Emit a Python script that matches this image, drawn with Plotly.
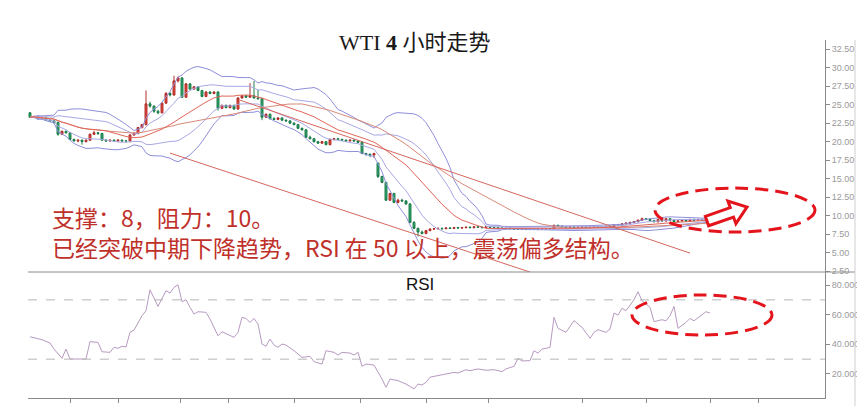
import plotly.graph_objects as go
import pandas as pd

# ---------------- data ----------------
open_ = [
    23.9, 23.3, 23.4, 23.1, 23.2, 22.9, 22.8, 22.6, 21.0, 21.4,
    21.2, 20.3, 20.1, 20.2, 20.0, 20.2, 21.0, 21.2, 21.1, 20.2,
    20.1, 20.2, 20.1, 20.2, 20.1, 20.1, 20.9, 21.1, 21.9, 22.3,
    25.1, 24.8, 24.1, 23.9, 25.2, 26.5, 26.3, 28.2, 28.6, 26.0,
    27.8, 27.1, 27.4, 26.9, 26.1, 26.7, 26.5, 26.7, 24.5, 24.9,
    24.6, 24.9, 24.4, 25.9, 26.2, 26.0, 26.2, 25.9, 25.8, 23.3,
    23.7, 23.1, 23.0, 23.2, 22.9, 22.8, 22.5, 22.3, 21.8, 21.6,
    20.6, 20.4, 20.0, 19.8, 20.0, 19.6, 20.3, 20.4, 20.3, 20.2,
    20.1, 20.2, 20.1, 19.9, 18.4, 18.3, 18.2, 17.1, 15.3, 14.5,
    12.1, 13.0, 11.8, 12.1, 12.0, 11.6, 9.1, 8.3, 7.8, 7.6,
    8.0,
    8.2, 8.25, 8.3, 8.25, 8.35, 8.3, 8.4, 8.35, 8.4, 8.45,
    8.4, 8.5, 8.45, 8.4, 8.5, 8.45, 8.4, 8.35, 8.3, 8.3,
    8.25, 8.2, 8.2, 8.25, 8.15, 8.2, 8.15, 8.2, 8.2, 8.25,
    8.2, 8.7, 8.6, 8.5, 8.45, 8.5, 8.4, 8.45, 8.5, 8.4,
    8.45, 8.5, 8.45, 8.5, 8.55, 8.5, 8.8, 8.75, 8.9, 9.0,
    9.1, 9.2, 9.4, 9.6, 9.5, 9.35, 9.2, 9.5, 9.3, 9.6,
    9.4, 9.2, 9.3, 9.4, 9.3, 9.5, 9.4, 9.5, 9.4, 9.5,
]
close = [
    23.3, 23.4, 23.1, 23.2, 22.9, 22.8, 22.6, 21.0, 21.4, 21.2,
    20.3, 20.1, 20.2, 20.0, 20.2, 21.0, 21.2, 21.1, 20.2, 20.1,
    20.2, 20.1, 20.2, 20.1, 20.1, 20.9, 21.1, 21.9, 22.3, 25.1,
    24.8, 24.1, 23.9, 25.2, 26.5, 26.3, 28.2, 28.6, 26.0, 27.8,
    27.1, 27.4, 26.9, 26.1, 26.7, 26.5, 26.7, 24.5, 24.9, 24.6,
    24.9, 24.4, 25.9, 26.2, 26.0, 26.2, 25.9, 25.8, 23.3, 23.7,
    23.1, 23.0, 23.2, 22.9, 22.8, 22.5, 22.3, 21.8, 21.6, 20.6,
    20.4, 20.0, 19.8, 20.0, 19.6, 20.3, 20.4, 20.3, 20.2, 20.1,
    20.2, 20.1, 19.9, 18.4, 18.3, 18.2, 18.4, 15.3, 14.5, 12.1,
    13.0, 11.8, 12.1, 12.0, 11.6, 9.1, 8.3, 7.8, 7.6, 8.0,
    8.2,
    8.25, 8.3, 8.25, 8.35, 8.3, 8.4, 8.35, 8.4, 8.45, 8.4,
    8.5, 8.45, 8.4, 8.5, 8.45, 8.4, 8.35, 8.3, 8.3, 8.25,
    8.2, 8.2, 8.25, 8.15, 8.2, 8.15, 8.2, 8.2, 8.25, 8.2,
    8.7, 8.6, 8.5, 8.45, 8.5, 8.4, 8.45, 8.5, 8.4, 8.45,
    8.5, 8.45, 8.5, 8.55, 8.5, 8.8, 8.75, 8.9, 9.0, 9.1,
    9.2, 9.4, 9.6, 9.5, 9.35, 9.2, 9.5, 9.3, 9.6, 9.4,
    9.2, 9.3, 9.4, 9.3, 9.5, 9.4, 9.5, 9.4, 9.5, 9.6,
]
high = [
    24.0, 23.5, 23.5, 23.3, 23.3, 23.0, 22.9, 22.7, 21.5, 21.5,
    21.3, 20.4, 20.3, 20.3, 20.3, 21.1, 21.5, 21.3, 21.2, 20.3,
    20.3, 20.3, 20.3, 20.3, 20.2, 21.0, 21.3, 22.0, 22.4, 26.9,
    25.4, 24.9, 24.3, 25.3, 26.7, 26.7, 28.9, 28.8, 28.7, 27.9,
    27.9, 27.5, 27.5, 27.0, 26.8, 26.8, 26.8, 26.8, 25.0, 25.0,
    25.0, 25.0, 26.0, 26.3, 26.3, 27.9, 28.2, 27.0, 25.9, 23.8,
    23.8, 23.3, 23.3, 23.3, 23.0, 22.9, 22.6, 22.4, 21.9, 21.7,
    20.8, 20.5, 20.1, 20.1, 20.1, 20.4, 20.5, 20.5, 20.4, 20.3,
    20.3, 20.3, 20.2, 20.0, 18.5, 18.4, 18.5, 17.2, 15.4, 14.6,
    13.1, 13.1, 12.3, 12.3, 12.1, 11.7, 9.3, 8.4, 8.0, 8.1,
    8.3,
    8.35, 8.4, 8.4, 8.45, 8.45, 8.5, 8.5, 8.5, 8.55, 8.55,
    8.6, 8.6, 8.55, 8.6, 8.6, 8.55, 8.5, 8.45, 8.4, 8.4,
    8.35, 8.3, 8.35, 8.35, 8.3, 8.3, 8.3, 8.3, 8.35, 8.35,
    8.8, 8.8, 8.7, 8.6, 8.6, 8.6, 8.55, 8.6, 8.6, 8.55,
    8.6, 8.6, 8.6, 8.65, 8.65, 8.9, 8.9, 9.0, 9.1, 9.2,
    9.3, 9.5, 9.75, 9.7, 9.6, 9.45, 9.6, 9.6, 9.7, 9.7,
    9.5, 9.4, 9.5, 9.5, 9.6, 9.6, 9.6, 9.6, 9.6, 9.7,
]
low = [
    23.2, 23.2, 23.0, 23.0, 22.8, 22.7, 22.5, 20.8, 20.9, 21.1,
    20.2, 20.0, 19.9, 19.6, 19.9, 20.1, 20.9, 20.9, 20.1, 20.0,
    20.0, 20.0, 20.0, 20.0, 19.9, 20.0, 20.8, 21.0, 21.8, 22.2,
    24.6, 23.9, 23.7, 23.8, 25.1, 26.1, 26.2, 28.0, 25.9, 25.9,
    27.0, 27.0, 26.8, 26.0, 26.0, 26.4, 26.4, 24.2, 24.4, 24.5,
    24.5, 24.3, 24.3, 25.8, 25.9, 25.9, 25.8, 25.7, 22.9, 23.2,
    23.0, 22.9, 22.9, 22.8, 22.7, 22.4, 22.2, 21.7, 21.5, 20.5,
    20.3, 19.9, 19.7, 19.7, 19.5, 19.5, 20.2, 20.2, 20.1, 20.0,
    20.0, 20.0, 19.8, 18.3, 18.1, 17.9, 17.8, 15.1, 14.4, 12.0,
    12.0, 11.7, 11.7, 11.9, 11.5, 9.0, 8.2, 7.2, 7.5, 7.5,
    7.9,
    8.1, 8.15, 8.15, 8.2, 8.2, 8.2, 8.25, 8.25, 8.3, 8.3,
    8.3, 8.35, 8.3, 8.3, 8.35, 8.3, 8.25, 8.2, 8.2, 8.15,
    8.1, 8.1, 8.1, 8.05, 8.05, 8.05, 8.05, 8.1, 8.1, 8.1,
    8.15, 8.5, 8.4, 8.35, 8.35, 8.3, 8.3, 8.35, 8.3, 8.3,
    8.35, 8.35, 8.35, 8.4, 8.4, 8.45, 8.65, 8.65, 8.8, 8.9,
    9.0, 9.1, 9.3, 9.4, 9.25, 9.1, 9.1, 9.2, 9.2, 9.3,
    9.1, 9.1, 9.2, 9.2, 9.2, 9.3, 9.3, 9.3, 9.3, 9.4,
]
bars = list(range(len(close)))

rsi_bar = [0, 3, 5, 6, 8, 9, 10, 14, 15, 17, 18, 20, 21, 22, 23, 24, 25, 26, 28, 29,
           30, 31, 32, 34, 35, 36, 37, 38, 39, 40, 41, 42, 44, 45, 47, 48, 50, 51, 52, 53,
           54, 55, 56, 57, 58, 59, 60, 61, 62, 63, 64, 66, 68, 70, 71, 73, 74, 76, 77, 78,
           80, 81, 82, 83, 84, 86, 88, 89, 90, 92, 94, 96, 97, 98, 99, 100, 101, 102, 104, 106,
           107, 109, 110, 112, 114, 116, 118, 119, 120, 121, 122, 123, 125, 126, 127, 128, 129, 130, 131, 132,
           134, 136, 138, 140, 141, 142, 144, 145, 146, 147, 148, 149, 151, 152, 153, 155, 156, 158, 159, 160,
           161, 162, 164, 165, 166, 168, 169, 170]
rsi_val = [45.1, 43.1, 40.9, 36.8, 30.6, 36.8, 30.1, 30.1, 41.8, 41.3, 35.0, 34.6, 38.0, 37.3, 38.7, 38.2, 48.1, 49.6, 59.3, 62.7,
           76.8, 71.7, 65.6, 76.2, 74.6, 78.4, 80.2, 68.8, 70.1, 65.0, 60.4, 62.0, 61.6, 57.1, 45.8, 48.5, 45.8, 44.7, 48.1, 58.2,
           57.5, 54.8, 57.5, 53.7, 40.2, 38.7, 43.6, 39.5, 38.0, 40.2, 39.5, 35.7, 31.2, 31.9, 28.3, 26.7, 35.7, 34.6, 32.8, 34.6,
           34.1, 32.8, 34.6, 25.2, 26.7, 26.0, 16.6, 11.0, 16.6, 15.5, 13.2, 9.9, 13.2, 12.6, 14.4, 17.8, 18.4, 18.8, 20.0, 21.1,
           20.7, 22.9, 22.2, 23.4, 22.5, 22.9, 21.6, 23.4, 24.5, 25.2, 30.6, 28.8, 29.0, 35.7, 34.1, 36.8, 37.3, 38.0, 58.2, 50.8,
           48.1, 56.0, 51.5, 44.1, 48.1, 49.9, 48.1, 50.3, 61.1, 59.7, 64.3, 62.7, 70.1, 75.5, 69.4, 65.0, 55.3, 56.6, 55.9, 59.3,
           65.6, 50.8, 54.8, 57.5, 55.9, 60.4, 62.0, 61.1]

price_ticks = [2.5, 5.0, 7.5, 10.0, 12.5, 15.0, 17.5, 20.0, 22.5, 25.0, 27.5, 30.0, 32.5]
rsi_ticks = [20, 40, 60, 80]
time_ticks = [10, 22, 37.5, 49.5, 66, 82.5, 99, 114.5, 138, 154, 170, 182]

# analyst's trend lines (bar index, price)
trend1_bar, trend1_price = [35, 125], [18.46, 2.4]
trend2_bar, trend2_price = [52.5, 165], [25.6, 4.96]
# marked zones (bar range, value range)
zone_price_bar, zone_price = [156.25, 196.25], [7.8, 13.73]
zone_rsi_bar, zone_rsi = [150.5, 185.5], [46.3, 73.3]
arrow_bar = [168.84, 175.06, 174.48, 179.25, 176.48, 175.89, 169.66]
arrow_price = [9.91, 11.09, 11.98, 11.17, 8.93, 9.82, 8.65]

note_lines = ["支撑：8，阻力：10。", "已经突破中期下降趋势，RSI 在 50 以上，震荡偏多结构。"]
title_text = "WTI <b>4</b> 小时走势"

# ---------------- indicators ----------------
s = pd.Series(close)
ma20 = s.rolling(20, min_periods=1).mean()
sd20 = s.rolling(20, min_periods=1).std(ddof=0)
ma40 = s.rolling(40, min_periods=1).mean()

# ---------------- layout helpers ----------------
OFF = 8                       # page body margin
W, H = 865 - OFF, 406 - OFF
L, R, T, B = 28 - OFF, 825 - OFF, 40 - OFF, 398 - OFF
def px(xp):                   # page pixel -> paper x
    return (xp - OFF - L) / (R - L)
def py(yp):                   # page pixel -> paper y
    return (B - (yp - OFF)) / (B - T)
split = py(272)

fig = go.Figure()

band_col = "#8f8fda"
inner_col = "#a8a8e4"
for vals, col in [(ma20 + 2 * sd20, band_col), (ma20 - 2 * sd20, band_col),
                  (ma20 + sd20, inner_col), (ma20 - sd20, inner_col),
                  (ma40, "#d98a78"), (ma20, "#e0665a")]:
    fig.add_trace(go.Scatter(x=bars, y=vals, mode="lines", line=dict(color=col, width=1),
                             xaxis="x", yaxis="y", hoverinfo="skip", showlegend=False))

fig.add_trace(go.Candlestick(
    x=bars, open=open_, high=high, low=low, close=close,
    increasing=dict(line=dict(color="#b0302a", width=1), fillcolor="#e5463c"),
    decreasing=dict(line=dict(color="#1c7c4a", width=1), fillcolor="#2ea86a"),
    whiskerwidth=0, xaxis="x", yaxis="y", hoverinfo="skip", showlegend=False))

fig.add_trace(go.Scatter(x=rsi_bar, y=rsi_val, mode="lines",
                         line=dict(color="#b79ac0", width=1),
                         xaxis="x2", yaxis="y2", hoverinfo="skip", showlegend=False))

red = "#e4141c"
shapes = []
for yv in (70, 30):
    shapes.append(dict(type="line", xref="x2 domain", x0=0, x1=1, yref="y2", y0=yv, y1=yv,
                       line=dict(color="#b5b5b5", width=1, dash="dash")))
for xb, yp in ((trend1_bar, trend1_price), (trend2_bar, trend2_price)):
    shapes.append(dict(type="line", xref="x", yref="y", x0=xb[0], x1=xb[1], y0=yp[0], y1=yp[1],
                       line=dict(color="#d4685e", width=1)))
shapes.append(dict(type="line", xref="paper", yref="paper", x0=0, x1=px(855), y0=split, y1=split,
                   line=dict(color="#8a8a8a", width=1)))
shapes.append(dict(type="line", xref="paper", yref="paper", x0=px(855), x1=px(855), y0=py(406), y1=py(40),
                   line=dict(color="#cfcfcf", width=1)))
shapes.append(dict(type="circle", xref="x", yref="y",
                   x0=zone_price_bar[0], x1=zone_price_bar[1], y0=zone_price[0], y1=zone_price[1],
                   line=dict(color=red, width=3, dash="13px,7px")))
shapes.append(dict(type="circle", xref="x2", yref="y2",
                   x0=zone_rsi_bar[0], x1=zone_rsi_bar[1], y0=zone_rsi[0], y1=zone_rsi[1],
                   line=dict(color=red, width=3, dash="13px,7px")))
path = "M " + " L ".join(f"{b},{p}" for b, p in zip(arrow_bar, arrow_price)) + " Z"
shapes.append(dict(type="path", xref="x", yref="y", path=path, fillcolor="white",
                   line=dict(color=red, width=3)))

annotations = [
    dict(text=title_text, x=px(415), y=py(42), xref="paper", yref="paper", showarrow=False,
         xanchor="center", yanchor="middle",
         font=dict(family="Liberation Serif, Noto Sans CJK SC", size=22, color="#1a1a1a")),
    dict(text="<br>".join(note_lines), x=px(50), y=py(232), xref="paper", yref="paper",
         showarrow=False, xanchor="left", yanchor="middle", align="left",
         font=dict(family="Noto Sans CJK SC", size=23, color="#c0302a")),
    dict(text="RSI", x=px(420), y=py(284), xref="paper", yref="paper", showarrow=False,
         xanchor="center", yanchor="middle",
         font=dict(family="Liberation Sans, Arial", size=17, color="#111")),
]

xr = [-0.5, 198.75]
fig.update_layout(
    width=W, height=H, margin=dict(l=L, r=W - R, t=T, b=H - B, autoexpand=False),
    paper_bgcolor="white", plot_bgcolor="white", showlegend=False,
    shapes=shapes, annotations=annotations, hovermode=False,
    xaxis=dict(domain=[0, 1], range=xr, anchor="y", showticklabels=False, showline=False,
               ticks="", showgrid=False, zeroline=False, rangeslider=dict(visible=False)),
    yaxis=dict(domain=[split, 1], range=[2.41, 33.72], side="right", anchor="x",
               showline=True, linecolor="#8a8a8a", linewidth=1, ticks="outside", ticklen=4,
               tickcolor="#8a8a8a", tickvals=price_ticks, ticktext=[f"{v:.2f}" for v in price_ticks],
               tickfont=dict(family="Liberation Sans, Arial", size=9, color="#9a9a9a"),
               showgrid=False, zeroline=False, automargin=False),
    xaxis2=dict(domain=[0, 1], range=xr, anchor="y2", showticklabels=False, showline=True,
                linecolor="#8a8a8a", linewidth=1, ticks="outside", ticklen=4, tickcolor="#8a8a8a",
                tickvals=time_ticks, showgrid=False, zeroline=False),
    yaxis2=dict(domain=[0, split], range=[3.8, 88.8], side="right", anchor="x2",
                showline=True, linecolor="#8a8a8a", linewidth=1, ticks="outside", ticklen=4,
                tickcolor="#8a8a8a", tickvals=rsi_ticks, ticktext=[f"{v:.4f}" for v in rsi_ticks],
                tickfont=dict(family="Liberation Sans, Arial", size=9, color="#9a9a9a"),
                showgrid=False, zeroline=False, automargin=False),
)

fig.write_html("out.html")
